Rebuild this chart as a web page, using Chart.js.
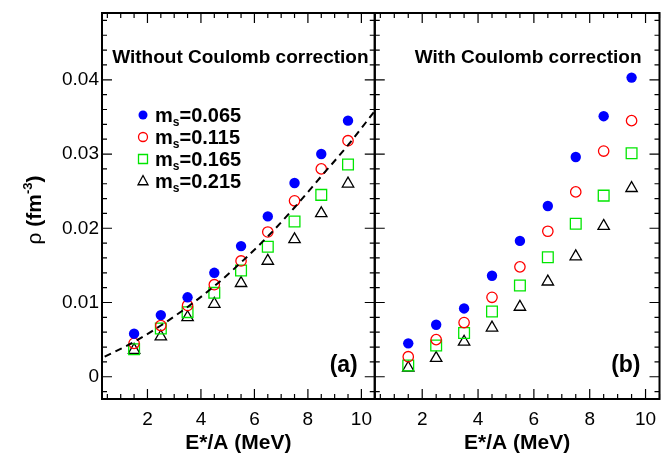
<!DOCTYPE html>
<html>
<head>
<meta charset="utf-8">
<script src="https://cdn.jsdelivr.net/npm/chart.js@4.4.1/dist/chart.umd.min.js"></script>
<style>
  html, body { margin: 0; padding: 0; background: #fff; }
  #wrap { position: relative; width: 663px; height: 459px; }
</style>
</head>
<body>
<div id="wrap"><canvas id="rhoChart" width="663" height="459"></canvas></div>
<script>
// ---------------------------------------------------------------------------
// data

const ENERGY = [1.5, 2.5, 3.5, 4.5, 5.5, 6.5, 7.5, 8.5, 9.5];
const MS_VALUES = ["0.065", "0.115", "0.165", "0.215"];

// (a) without Coulomb correction, rho in fm^-3
const rhoA065 = [0.0058, 0.0083, 0.0107, 0.0140, 0.0176, 0.0216, 0.0261, 0.0300, 0.0345];
const rhoA115 = [0.0045, 0.0069, 0.0096, 0.0124, 0.0156, 0.0195, 0.0237, 0.0280, 0.0318];
const rhoA165 = [0.0037, 0.0065, 0.0087, 0.0113, 0.0143, 0.0175, 0.0209, 0.0245, 0.0286];
const rhoA215 = [0.0036, 0.0054, 0.0080, 0.0098, 0.0126, 0.0156, 0.0185, 0.0220, 0.0260];

// (b) with Coulomb correction
const rhoB065 = [0.0045, 0.0070, 0.0092, 0.0136, 0.0183, 0.0230, 0.0296, 0.0351, 0.0403];
const rhoB115 = [0.0027, 0.0050, 0.0073, 0.0107, 0.0148, 0.0196, 0.0249, 0.0304, 0.0345];
const rhoB165 = [0.0015, 0.0042, 0.0059, 0.0088, 0.0123, 0.0161, 0.0206, 0.0244, 0.0301];
const rhoB215 = [0.0012, 0.0025, 0.0047, 0.0066, 0.0094, 0.0128, 0.0162, 0.0203, 0.0254];

// dashed curve in panel (a)
const fitE   = [0.4, 1.5, 2.5, 3.5, 4.5, 5.5, 6.5, 7.5, 8.5, 9.5, 10.5];
const fitRho = [0.0027, 0.0047, 0.0069, 0.0094, 0.0122, 0.0154, 0.0189, 0.0228, 0.0270, 0.0312, 0.0358];

const xTickValues = [2, 4, 6, 8, 10];
const yTickValues = [0, 0.01, 0.02, 0.03, 0.04];
const xMinorStep = 0.5;
const yMinorStep = 0.002;

// ---------------------------------------------------------------------------
// styles

const FONT = "'Liberation Sans', Arial, Helvetica, sans-serif";
const markerStyle  = ["circle", "circle", "rect", "triangle"];
const markerColor  = ["#0000ff", "#ff0000", "#00e600", "#000000"];
const markerFilled = [true, false, false, false];
const markerRadius = [5.2, 5.2, 7.6, 6.6];

function pointSet(values, i, axisId) {
    return {
        label: "ms=" + MS_VALUES[i],
        data: ENERGY.map((e, k) => ({ x: e, y: values[k] })),
        xAxisID: axisId,
        yAxisID: "y",
        showLine: false,
        pointStyle: markerStyle[i],
        pointRadius: markerRadius[i],
        pointHoverRadius: markerRadius[i],
        pointBorderWidth: markerFilled[i] ? 0 : 1.3,
        pointBorderColor: markerColor[i],
        pointBackgroundColor: markerFilled[i] ? markerColor[i] : "rgba(0,0,0,0)"
    };
}

const datasets = [
    {
        label: "fit",
        data: fitE.map((e, k) => ({ x: e, y: fitRho[k] })),
        xAxisID: "xL",
        yAxisID: "y",
        showLine: true,
        pointRadius: 0,
        borderColor: "#000",
        borderWidth: 2,
        borderDash: [7, 5],
        cubicInterpolationMode: "monotone"
    },
    pointSet(rhoA065, 0, "xL"),
    pointSet(rhoA115, 1, "xL"),
    pointSet(rhoA165, 2, "xL"),
    pointSet(rhoA215, 3, "xL"),
    pointSet(rhoB065, 0, "xR"),
    pointSet(rhoB115, 1, "xR"),
    pointSet(rhoB165, 2, "xR"),
    pointSet(rhoB215, 3, "xR")
];

// legend marker, same look as the dataset points
function drawMarker(ctx, i, x, y, r) {
    ctx.save();
    ctx.strokeStyle = markerColor[i];
    ctx.fillStyle = markerColor[i];
    ctx.lineWidth = 1.3;
    ctx.beginPath();
    if (markerStyle[i] === "circle") {
        ctx.arc(x, y, r, 0, Math.PI * 2);
    } else if (markerStyle[i] === "rect") {
        ctx.rect(x - r, y - r, 2 * r, 2 * r);
    } else {
        ctx.moveTo(x, y - r * 1.1);
        ctx.lineTo(x + r, y + r * 0.75);
        ctx.lineTo(x - r, y + r * 0.75);
        ctx.closePath();
    }
    if (markerFilled[i]) ctx.fill(); else ctx.stroke();
    ctx.restore();
}

function xAxis(weight) {
    return {
        type: "linear",
        position: "bottom",
        stack: "panels",
        stackWeight: weight,
        min: 0.3,
        max: 10.5,
        grid: { display: false, drawTicks: false },
        border: { display: false },
        afterBuildTicks: s => { s.ticks = xTickValues.map(v => ({ value: v })); },
        afterFit: s => { s.height = 60; s.paddingLeft = 0; s.paddingRight = 0; },
        ticks: {
            padding: 9,
            color: "#000",
            font: { family: FONT, size: 19 },
            maxRotation: 0,
            callback: v => String(v)
        },
        title: {
            display: true,
            text: "E*/A (MeV)",
            color: "#000",
            font: { family: FONT, size: 21, weight: "bold" },
            padding: { top: 0, bottom: 3 }
        }
    };
}

// frame + inward ticks on every side of both panels, then the texts
const framePlugin = {
    id: "frame",
    afterDatasetsDraw(chart) {
        const ctx = chart.ctx;
        const y = chart.scales.y;
        ctx.save();
        ctx.strokeStyle = "#000";
        ["xL", "xR"].forEach(id => {
            const x = chart.scales[id];
            const l = x.left, r = x.right, t = y.top, b = y.bottom;
            ctx.lineWidth = 1.2;
            ctx.beginPath();
            for (let k = 1; k * xMinorStep <= x.max + 1e-9; k++) {
                const v = k * xMinorStep;
                if (v < x.min) continue;
                const px = x.getPixelForValue(v);
                const len = (v % 2 === 0) ? 10 : 5;
                ctx.moveTo(px, b); ctx.lineTo(px, b - len);
                ctx.moveTo(px, t); ctx.lineTo(px, t + len);
            }
            for (let k = -2; k * yMinorStep <= y.max + 1e-9; k++) {
                const v = k * yMinorStep;
                if (v < y.min) continue;
                const py = y.getPixelForValue(v);
                const len = (k % 5 === 0) ? 10 : 5;
                ctx.moveTo(l, py); ctx.lineTo(l + len, py);
                ctx.moveTo(r, py); ctx.lineTo(r - len, py);
            }
            ctx.stroke();
            ctx.lineWidth = 2;
            ctx.strokeRect(l, t, r - l, b - t);
        });
        ctx.restore();
    },
    afterDraw(chart) {
        const ctx = chart.ctx;
        const y = chart.scales.y, xL = chart.scales.xL, xR = chart.scales.xR;
        ctx.save();
        ctx.fillStyle = "#000";
        ctx.textBaseline = "middle";

        ctx.font = "bold 19px " + FONT;
        ctx.textAlign = "center";
        ctx.fillText("Without Coulomb correction", (xL.left + xL.right) / 2 + 2, y.top + 45);
        ctx.textAlign = "left";
        ctx.fillText("With Coulomb correction", xR.left + 40, y.top + 45);

        ctx.font = "bold 23px " + FONT;
        ctx.textAlign = "right";
        ctx.fillText("(a)", xL.right - 17, y.bottom - 33);
        ctx.fillText("(b)", xR.right - 19, y.bottom - 33);

        ctx.textBaseline = "alphabetic";
        ctx.textAlign = "left";
        MS_VALUES.forEach((ms, i) => {
            const cy = y.top + 102 + i * 22;
            const mx = xL.left + 41;
            drawMarker(ctx, i, mx, cy, markerStyle[i] === "triangle" ? 5 : 4.5);
            let tx = xL.left + 53;
            const base = cy + 7;
            ctx.font = "bold 20px " + FONT;
            ctx.fillText("m", tx, base);
            tx += ctx.measureText("m").width;
            ctx.font = "bold 12px " + FONT;
            ctx.fillText("s", tx, base + 4);
            tx += ctx.measureText("s").width;
            ctx.font = "bold 20px " + FONT;
            ctx.fillText("=" + ms, tx, base);
        });

        // y title: rho (fm^-3), rotated
        const parts = [
            { t: "\u03c1 ", f: "21px " + FONT, dy: 0 },
            { t: "(fm", f: "bold 21px " + FONT, dy: 0 },
            { t: "-3", f: "bold 13px " + FONT, dy: -9 },
            { t: ")", f: "bold 21px " + FONT, dy: 0 }
        ];
        let total = 0;
        parts.forEach(p => { ctx.font = p.f; total += ctx.measureText(p.t).width; });
        ctx.translate(41, (y.top + y.bottom) / 2 + 4);
        ctx.rotate(-Math.PI / 2);
        let px = -total / 2;
        parts.forEach(p => {
            ctx.font = p.f;
            ctx.fillText(p.t, px, p.dy);
            px += ctx.measureText(p.t).width;
        });
        ctx.restore();
    }
};

Chart.defaults.font.family = FONT;

new Chart(document.getElementById("rhoChart"), {
    type: "scatter",
    data: { datasets: datasets },
    options: {
        responsive: false,
        animation: false,
        devicePixelRatio: 1,
        layout: { autoPadding: false, padding: { top: 13, right: 3.5, left: 0, bottom: 0 } },
        plugins: { legend: { display: false }, tooltip: { enabled: false } },
        scales: {
            xL: xAxis(273),
            xR: xAxis(285),
            y: {
                type: "linear",
                position: "left",
                min: -0.003,
                max: 0.049,
                grid: { display: false, drawTicks: false },
                border: { display: false },
                afterBuildTicks: s => { s.ticks = yTickValues.map(v => ({ value: v })); },
                afterFit: s => { s.width = 102; s.paddingTop = 0; s.paddingBottom = 0; },
                ticks: {
                    padding: 3,
                    color: "#000",
                    font: { family: FONT, size: 19 },
                    callback: v => v === 0 ? "0" : v.toFixed(2)
                }
            }
        }
    },
    plugins: [framePlugin]
});
</script>
</body>
</html>
